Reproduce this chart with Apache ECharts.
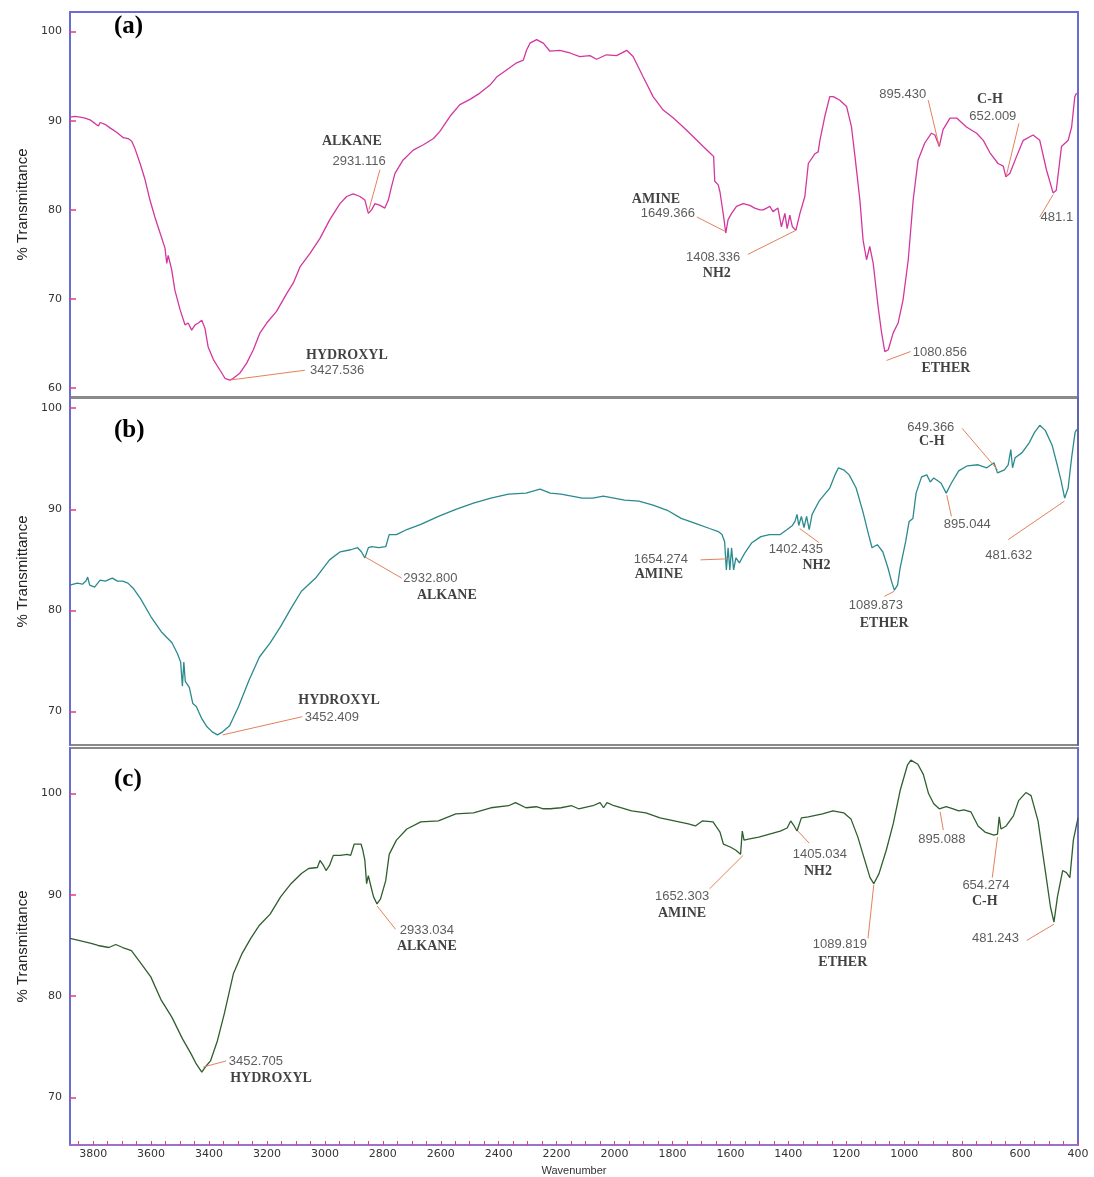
<!DOCTYPE html>
<html>
<head>
<meta charset="utf-8">
<script src="https://cdn.jsdelivr.net/npm/echarts@6/dist/echarts.min.js"></script>
<style>
html, body { margin: 0; padding: 0; background: #fff; }
#chart { width: 1094px; height: 1177px; }
</style>
</head>
<body>
<div id="chart"></div>
<script>
// x labels of the bottom axis
const xLabels = [3800, 3600, 3400, 3200, 3000, 2800, 2600, 2400, 2200, 2000, 1800, 1600, 1400, 1200, 1000, 800, 600, 400];
const xMinor = [];
for (let w = 400; w <= 3850; w += 50) xMinor.push(w);

// (a) spectrum
const waveA = [3880, 3863, 3845, 3828, 3811, 3794, 3782, 3776, 3759, 3742, 3719, 3696, 3679, 3667, 3656, 3638, 3621, 3604, 3587, 3569,
  3552, 3546, 3541, 3535, 3529, 3518, 3500, 3483, 3472, 3460, 3448, 3437, 3425, 3420, 3414, 3403, 3385, 3362, 3345, 3328,
  3316, 3293, 3270, 3247, 3224, 3201, 3167, 3132, 3109, 3086, 3052, 3017, 2983, 2948, 2925, 2902, 2879, 2862, 2850, 2839,
  2827, 2810, 2793, 2781, 2770, 2758, 2730, 2695, 2660, 2625, 2603, 2568, 2534, 2499, 2465, 2430, 2407, 2373, 2338, 2315,
  2304, 2292, 2269, 2246, 2223, 2189, 2154, 2120, 2085, 2062, 2028, 1993, 1958, 1936, 1901, 1867, 1832, 1797, 1763, 1728,
  1694, 1665, 1658, 1654, 1642, 1636, 1625, 1616, 1608, 1596, 1579, 1556, 1533, 1516, 1498, 1487, 1475, 1464, 1453, 1447,
  1436, 1424, 1412, 1404, 1395, 1386, 1374, 1360, 1343, 1331, 1308, 1297, 1291, 1274, 1257, 1245, 1222, 1199, 1182, 1170,
  1153, 1142, 1130, 1119, 1107, 1090, 1078, 1067, 1055, 1038, 1021, 1004, 986, 969, 952, 929, 906, 894, 879, 866,
  842, 819, 785, 750, 727, 704, 676, 658, 649, 635, 612, 589, 555, 532, 509, 486, 475, 457, 434, 422, 411, 405];
const transA = [90.4, 90.5, 90.4, 90.3, 90.1, 89.7, 89.4, 89.8, 89.6, 89.2, 88.7, 88.1, 88.0, 87.7, 86.9, 85.2, 83.4, 81.1, 79.2, 77.4,
  75.7, 74.0, 74.9, 74.8, 73.3, 71.0, 68.8, 67.1, 67.3, 66.5, 67.1, 67.3, 67.6, 67.5, 66.7, 64.6, 63.2, 62.0, 61.1, 60.9,
  61.1, 61.7, 62.8, 64.3, 66.2, 67.3, 68.6, 70.6, 71.8, 73.6, 75.1, 76.8, 78.9, 80.7, 81.5, 81.8, 81.5, 81.1, 79.6, 80.0,
  80.7, 80.5, 80.2, 81.1, 82.6, 84.1, 85.6, 86.7, 87.3, 88.0, 88.8, 90.5, 91.8, 92.4, 93.1, 94.0, 94.9, 95.7, 96.5, 96.8,
  97.9, 98.7, 99.1, 98.7, 97.8, 97.9, 97.6, 97.2, 97.3, 96.9, 97.4, 97.3, 97.9, 97.2, 94.9, 92.7, 91.2, 90.3, 89.3, 88.2,
  87.1, 86.2, 86.0, 83.2, 82.8, 82.0, 79.6, 77.4, 78.9, 79.6, 80.4, 80.7, 80.5, 80.2, 80.0, 80.0, 80.2, 80.4, 79.8, 80.0,
  80.2, 78.1, 79.6, 77.9, 79.4, 78.1, 77.7, 79.6, 81.5, 85.2, 86.3, 86.5, 87.8, 90.5, 92.7, 92.7, 92.3, 91.6, 89.3, 86.0,
  81.1, 76.6, 74.4, 75.9, 74.0, 69.1, 66.2, 64.1, 64.3, 66.2, 67.3, 69.9, 74.4, 81.1, 85.6, 87.5, 88.6, 88.4, 87.1, 89.0,
  90.3, 90.3, 89.3, 88.6, 87.8, 86.4, 85.2, 84.9, 83.7, 84.1, 86.0, 87.8, 88.4, 87.8, 84.5, 81.9, 82.2, 87.1, 87.8, 89.3, 92.7, 93.1];

// (b) spectrum
const waveB = [3880, 3855, 3837, 3825, 3819, 3812, 3795, 3776, 3758, 3734, 3716, 3698, 3680, 3662, 3637, 3601, 3565, 3528, 3510, 3498,
  3492, 3487, 3482, 3468, 3456, 3444, 3425, 3407, 3389, 3371, 3353, 3329, 3298, 3262, 3226, 3189, 3153, 3117, 3081, 3032,
  2984, 2947, 2911, 2887, 2874, 2862, 2850, 2838, 2814, 2790, 2778, 2753, 2717, 2669, 2608, 2548, 2487, 2427, 2366, 2306,
  2257, 2222, 2185, 2148, 2112, 2075, 2039, 2002, 1965, 1916, 1867, 1818, 1770, 1721, 1672, 1642, 1629, 1620, 1614, 1608,
  1602, 1596, 1589, 1581, 1569, 1550, 1526, 1495, 1465, 1428, 1404, 1386, 1377, 1370, 1364, 1355, 1346, 1337, 1328, 1318,
  1294, 1257, 1239, 1227, 1209, 1190, 1166, 1142, 1123, 1111, 1093, 1074, 1056, 1044, 1034, 1023, 1014, 995, 983, 970,
  959, 940, 922, 910, 898, 873, 855, 837, 812, 782, 745, 715, 690, 678, 654, 641, 632, 626, 617, 593,
  568, 550, 532, 513, 489, 471, 459, 446, 434, 422, 410, 404];
const transB = [82.5, 82.7, 82.6, 82.9, 83.3, 82.5, 82.3, 83.0, 82.9, 83.2, 82.9, 82.9, 82.7, 82.2, 81.2, 79.4, 77.9, 76.8, 75.8, 74.9,
  72.5, 74.9, 73.0, 72.4, 70.8, 70.5, 69.3, 68.5, 68.0, 67.7, 68.0, 68.6, 70.5, 73.1, 75.4, 76.8, 78.4, 80.2, 81.9, 83.2,
  85.0, 85.8, 86.0, 86.2, 85.8, 85.2, 86.2, 86.3, 86.2, 86.3, 87.5, 87.5, 88.0, 88.5, 89.3, 90.0, 90.6, 91.1, 91.5, 91.6,
  92.0, 91.6, 91.5, 91.3, 91.1, 91.1, 91.3, 91.1, 90.9, 90.8, 90.4, 89.9, 89.1, 88.6, 88.1, 87.8, 87.5, 86.8, 84.0, 86.2,
  84.0, 86.2, 84.0, 85.2, 84.7, 85.7, 86.7, 87.3, 87.5, 87.5, 88.0, 88.4, 88.8, 89.5, 88.4, 89.3, 88.2, 89.3, 88.0, 89.5,
  90.8, 92.1, 93.4, 94.1, 93.9, 93.4, 92.1, 89.7, 87.5, 86.2, 86.5, 85.8, 84.2, 82.9, 82.0, 82.5, 84.2, 86.8, 88.8, 89.1,
  91.6, 93.2, 93.4, 92.7, 93.1, 92.6, 91.6, 92.6, 93.8, 94.3, 94.4, 94.1, 94.6, 93.6, 93.9, 94.4, 95.9, 94.1, 95.1, 95.6,
  96.6, 97.6, 98.3, 97.8, 96.3, 94.3, 92.9, 91.1, 92.1, 95.1, 97.6, 97.9];

// (c) spectrum
const waveC = [3880, 3850, 3807, 3783, 3746, 3722, 3698, 3668, 3637, 3601, 3565, 3528, 3492, 3462, 3444, 3425, 3413, 3395, 3371, 3347,
  3316, 3286, 3256, 3226, 3189, 3153, 3117, 3081, 3056, 3026, 3017, 3005, 2996, 2984, 2971, 2947, 2923, 2911, 2899, 2875,
  2869, 2862, 2856, 2850, 2840, 2832, 2820, 2808, 2790, 2778, 2753, 2717, 2669, 2608, 2548, 2487, 2427, 2366, 2342, 2306,
  2270, 2246, 2222, 2185, 2148, 2124, 2075, 2050, 2038, 2026, 2002, 1941, 1892, 1843, 1794, 1745, 1721, 1697, 1660, 1636,
  1624, 1599, 1581, 1565, 1559, 1553, 1538, 1502, 1465, 1428, 1404, 1392, 1380, 1370, 1355, 1331, 1282, 1246, 1209, 1184,
  1160, 1136, 1118, 1105, 1087, 1062, 1038, 1014, 989, 977, 953, 934, 916, 898, 879, 855, 831, 812, 794, 770,
  745, 721, 690, 678, 672, 666, 648, 623, 605, 580, 562, 538, 513, 495, 483, 471, 453, 440, 428, 416, 400];
const transC = [85.7, 85.5, 85.2, 85.0, 84.8, 85.1, 84.8, 84.5, 83.3, 81.9, 79.6, 77.9, 75.8, 74.3, 73.3, 72.5, 73.0, 73.6, 75.6, 78.3,
  82.2, 84.2, 85.7, 87.0, 88.1, 89.8, 91.1, 92.1, 92.6, 92.7, 93.4, 92.9, 92.4, 92.9, 93.9, 93.9, 94.0, 93.9, 95.0, 95.0,
  94.4, 93.4, 91.1, 91.9, 90.7, 89.8, 89.1, 89.6, 91.4, 94.0, 95.4, 96.5, 97.2, 97.3, 98.0, 98.1, 98.6, 98.8, 99.1, 98.6,
  98.7, 98.5, 98.5, 98.6, 98.8, 98.5, 98.8, 99.1, 98.6, 99.1, 98.8, 98.3, 98.1, 97.6, 97.3, 97.0, 96.8, 97.3, 97.2, 96.2,
  95.0, 94.7, 94.4, 94.0, 96.3, 95.4, 95.5, 95.7, 96.0, 96.3, 96.6, 97.3, 96.8, 96.3, 97.6, 97.7, 98.0, 98.3, 98.1, 97.5,
  95.7, 93.4, 91.7, 91.1, 92.1, 94.4, 97.0, 100.3, 102.8, 103.3, 102.9, 101.9, 100.0, 99.0, 98.5, 98.7, 98.5, 98.3, 98.4, 98.2,
  96.8, 96.2, 95.9, 96.0, 97.7, 96.5, 96.8, 97.8, 99.3, 100.1, 99.8, 97.3, 92.4, 88.8, 87.3, 89.8, 92.4, 92.2, 91.7, 95.4, 97.6];

// annotations: [text, wavenumber, %T, kind]  n = peak number, g = group name
const notesA = [
  ['HYDROXYL', 2924, 63.7, 'g'], ['3427.536', 2958, 62.0, 'n'],
  ['ALKANE', 2907, 87.7, 'g'], ['2931.116', 2882, 85.4, 'n'],
  ['AMINE', 1857, 81.2, 'g'], ['1649.366', 1816, 79.6, 'n'],
  ['1408.336', 1660, 74.7, 'n'], ['NH2', 1647, 72.9, 'g'],
  ['1080.856', 877, 64.0, 'n'], ['ETHER', 856, 62.2, 'g'],
  ['895.430', 1005, 93.0, 'n'],
  ['C-H', 704, 92.4, 'g'], ['652.009', 694, 90.5, 'n'],
  ['481.1', 473, 79.1, 'n']
];
const notesB = [
  ['HYDROXYL', 2951, 71.1, 'g'], ['3452.409', 2976, 69.4, 'n'],
  ['2932.800', 2636, 83.2, 'n'], ['ALKANE', 2579, 81.5, 'g'],
  ['1654.274', 1840, 85.0, 'n'], ['AMINE', 1847, 83.6, 'g'],
  ['1402.435', 1374, 86.0, 'n'], ['NH2', 1303, 84.5, 'g'],
  ['1089.873', 1098, 80.5, 'n'], ['ETHER', 1069, 78.7, 'g'],
  ['895.044', 782, 88.5, 'n'],
  ['649.366', 908, 98.1, 'n'], ['C-H', 905, 96.7, 'g'],
  ['481.632', 639, 85.4, 'n']
];
const notesC = [
  ['3452.705', 3238, 73.6, 'n'], ['HYDROXYL', 3186, 71.9, 'g'],
  ['2933.034', 2648, 86.5, 'n'], ['ALKANE', 2648, 84.9, 'g'],
  ['1652.303', 1767, 89.8, 'n'], ['AMINE', 1767, 88.2, 'g'],
  ['1405.034', 1291, 94.0, 'n'], ['NH2', 1298, 92.3, 'g'],
  ['1089.819', 1222, 85.1, 'n'], ['ETHER', 1212, 83.3, 'g'],
  ['895.088', 870, 95.5, 'n'],
  ['654.274', 718, 90.9, 'n'], ['C-H', 722, 89.4, 'g'],
  ['481.243', 685, 85.7, 'n']
];

// leader lines: [w1, T1, w2, T2]
const leadsA = [
  [3328, 60.9, 3069, 62.0], [2848, 80.0, 2810, 84.5], [1716, 79.2, 1619, 77.6], [1540, 75.0, 1374, 77.7],
  [1061, 63.1, 978, 64.1], [917, 92.3, 879, 87.1], [604, 89.7, 647, 83.9], [532, 79.2, 486, 81.7]
];
const leadsB = [
  [3353, 67.7, 3078, 69.5], [2862, 85.3, 2735, 83.2], [1703, 85.0, 1611, 85.1], [1361, 88.1, 1294, 86.7],
  [1034, 81.9, 1068, 81.4], [853, 91.4, 837, 89.3], [800, 98.0, 678, 93.9], [641, 87.0, 447, 90.8]
];
const leadsC = [
  [3420, 73.0, 3341, 73.6], [2820, 88.9, 2756, 86.6], [1672, 90.6, 1556, 93.9], [1367, 96.3, 1328, 95.1],
  [1105, 91.0, 1125, 85.7], [876, 98.2, 865, 96.4], [678, 95.7, 696, 91.7], [577, 85.5, 483, 87.1]
];

const panels = [
  { wave: waveA, trans: transA, notes: notesA, leads: leadsA, color: '#d4369f', tag: '(a)',
    yMin: 59, yMax: 102.2, yTicks: [60, 70, 80, 90, 100], top: 12, height: 385, tagTop: 14 },
  { wave: waveB, trans: transB, notes: notesB, leads: leadsB, color: '#2b8a8e', tag: '(b)',
    yMin: 66.7, yMax: 101.0, yTicks: [70, 80, 90, 100], top: 398, height: 347, tagTop: 418 },
  { wave: waveC, trans: transC, notes: notesC, leads: leadsC, color: '#2f5e2f', tag: '(c)',
    yMin: 65.3, yMax: 104.5, yTicks: [70, 80, 90, 100], top: 748, height: 397, tagTop: 767 }
];

const blue = '#6b6bd4';
const tickRed = '#e0407a';
const leadColor = '#e3825a';
const numStyle = { fontFamily: '"Liberation Sans", Arial, sans-serif', fontSize: 13, color: '#333' };
const grpStyle = { fontFamily: '"Liberation Serif", "Times New Roman", serif', fontSize: 14, fontWeight: 'bold', color: '#111' };

const grids = [], xAxes = [], yAxes = [], series = [], graphics = [];

panels.forEach((p, i) => {
  const last = i === panels.length - 1;
  grids.push({ left: 70, right: 16, top: p.top, height: p.height, show: true,
    borderColor: '#8a8a8a', borderWidth: 2, backgroundColor: 'transparent' });

  xAxes.push({
    type: 'value', gridIndex: i, min: 400, max: 3880, inverse: true,
    axisLine: { show: last, onZero: false, lineStyle: { color: '#a070c8', width: 2 } },
    axisTick: { show: last, inside: true, length: 4, customValues: xMinor, lineStyle: { color: tickRed } },
    axisLabel: { show: last, customValues: xLabels, margin: 4, color: '#333', fontSize: 11,
      fontFamily: '"DejaVu Sans", Verdana, sans-serif', formatter: v => String(v) },
    splitLine: { show: false },
    name: last ? 'Wavenumber' : '', nameLocation: 'middle', nameGap: 20,
    nameTextStyle: { fontSize: 11, color: '#333', fontFamily: '"Liberation Sans", Arial, sans-serif' }
  });

  yAxes.push({
    type: 'value', gridIndex: i, min: p.yMin, max: p.yMax,
    axisLine: { show: true, onZero: false, lineStyle: { color: blue, width: 2 } },
    axisTick: { show: true, inside: true, length: 6, customValues: p.yTicks, lineStyle: { color: tickRed, width: 1.5 } },
    axisLabel: { customValues: p.yTicks, margin: 8, color: '#333', fontSize: 11,
      fontFamily: '"DejaVu Sans", Verdana, sans-serif', formatter: v => String(v) },
    splitLine: { show: false },
    name: '% Transmittance', nameLocation: 'middle', nameGap: 36, nameRotate: 90,
    nameTextStyle: { fontSize: 15, color: '#222', fontFamily: '"Liberation Sans", Arial, sans-serif' }
  });

  series.push({
    type: 'line', xAxisIndex: i, yAxisIndex: i, showSymbol: false, silent: true,
    data: p.wave.map((w, k) => [w, p.trans[k]]),
    lineStyle: { color: p.color, width: 1.3 },
    markLine: {
      silent: true, symbol: ['none', 'none'], label: { show: false },
      lineStyle: { color: leadColor, width: 1, type: 'solid' },
      emphasis: { disabled: true },
      data: p.leads.map(l => [{ coord: [l[0], l[1]] }, { coord: [l[2], l[3]] }])
    }
  });

  series.push({
    type: 'scatter', xAxisIndex: i, yAxisIndex: i, silent: true, symbolSize: 1,
    itemStyle: { color: 'rgba(0,0,0,0)' },
    data: p.notes.map(n => ({
      value: [n[1], n[2]], name: n[0],
      label: Object.assign({ show: true, position: 'inside', formatter: '{b}' }, n[3] === 'g' ? grpStyle : numStyle)
    }))
  });

  graphics.push({
    type: 'text', left: 114, top: p.tagTop,
    style: { text: p.tag, font: 'bold 25px "Liberation Serif", "Times New Roman", serif', fill: '#000' }
  });
});

// extra axes for the panel frame: top line of (a), right lines of all panels
xAxes.push({
  type: 'value', gridIndex: 0, position: 'top', min: 400, max: 3880, inverse: true,
  axisLine: { show: true, onZero: false, lineStyle: { color: blue, width: 2 } },
  axisTick: { show: false }, axisLabel: { show: false }, splitLine: { show: false }
});
panels.forEach((p, i) => {
  yAxes.push({
    type: 'value', gridIndex: i, position: 'right', min: p.yMin, max: p.yMax,
    axisLine: { show: true, onZero: false, lineStyle: { color: i === 1 ? '#6262a8' : blue, width: 2 } },
    axisTick: { show: false }, axisLabel: { show: false }, splitLine: { show: false }
  });
});

const chart = echarts.init(document.getElementById('chart'));
chart.setOption({
  animation: false,
  backgroundColor: '#fff',
  grid: grids,
  xAxis: xAxes,
  yAxis: yAxes,
  series: series,
  graphic: graphics
});
</script>
</body>
</html>
